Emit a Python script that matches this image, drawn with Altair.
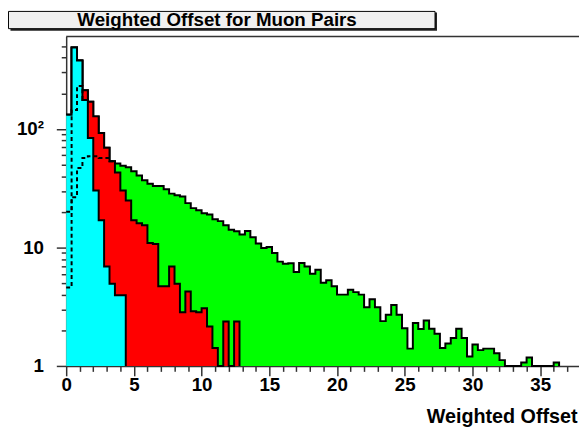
import altair as alt
import pandas as pd

TITLE = "Weighted Offset for Muon Pairs"
X_TITLE = "Weighted Offset"
BIN_WIDTH = 0.4          # 100 bins over 0..40
FLOOR = 1.0              # bottom of the log axis

# bin contents, bins of 0.4 starting at 0
TOTAL = [132, 489, 379, 213, 170, 128, 92.6, 69.5, 53.6, 51.2,
         49, 47.5, 44, 40.5, 37, 34.5, 33, 33, 31, 28.5,
         27.6, 27.0, 23.7, 21.5, 20.6, 19.5, 19.0, 17.3, 16.7, 15.4,
         14.1, 13.7, 12.9, 13.8, 12.2, 10.8, 9.9, 10.1, 9.0, 7.6,
         7.3, 7.35, 6.2, 7.4, 6.9, 6.0, 6.5, 5.05, 5.3, 4.7,
         4.0, 4.0, 4.4, 4.2, 4.0, 3.13, 3.66, 3.13, 2.39, 2.71,
         3.27, 2.7, 2.08, 1.4, 2.3, 2.05, 2.42, 2.06, 1.87, 1.42,
         1.55, 1.72, 2.06, 1.72, 1.2, 1.52, 1.36, 1.4, 1.4, 1.28,
         1.12, 0, 0, 0, 1.07, 1.18, 0, 0, 0, 0,
         1.07]
RED = [132, 489, 379, 213, 170, 128, 92.6, 69.5, 53.6, 43,
       30.3, 24.9, 17.0, 16.0, 15.4, 10.9, 10.7, 4.7, 4.7, 6.9,
       4.95, 2.84, 4.25, 2.9, 2.84, 3.07, 2.15, 1.42, 0, 2.37,
       0, 2.37]
CYAN = [132, 489, 379, 176, 84, 30.3, 17.0, 6.9, 4.95, 3.96, 3.96]
DASH_A = [4.6, 145, 231, 176]
DASH_B = [20, 26.6, 47, 57, 59, 59, 57, 57, 53.6]

X_TICKS = list(range(0, 38))
Y_TICKS = [1, 2, 3, 4, 5, 6, 7, 8, 9, 10, 20, 30, 40, 50, 60, 70, 80, 90,
           100, 200, 300, 400, 500]

W, H = 520, 334
FONT = "Liberation Sans"


def step_frame(values, close=True):
    xs = [round(BIN_WIDTH * k, 4) for k in range(len(values) + 1)]
    vs = [max(v, FLOOR) for v in values]
    vs.append(FLOOR if close else vs[-1])
    return pd.DataFrame({"x": xs, "v": vs})


x_axis = alt.Axis(
    values=X_TICKS,
    labelExpr="datum.value % 5 == 0 ? datum.label : ''",
    tickSize={"condition": {"test": "datum.value % 5 == 0", "value": 10}, "value": 5.5},
    tickColor="#333", tickWidth=1.5, domainColor="#333", domainWidth=1.5,
    labelFont=FONT, labelFontWeight="bold", labelFontSize=19, labelColor="black",
    labelPadding=0, labelFlush=False, labelOverlap=False, grid=False,
    title=X_TITLE, titleFont=FONT, titleFontWeight="bold", titleFontSize=20,
    titleColor="black", titleAnchor="end", titleAlign="right",
    titleBaseline="alphabetic", titleX=518, titleY=57,
)
y_axis = alt.Axis(
    values=Y_TICKS,
    labelExpr="datum.value == 1 ? '1' : datum.value == 10 ? '10' : datum.value == 100 ? '10²' : ''",
    tickSize={"condition": {"test": "datum.value == 1 || datum.value == 10 || datum.value == 100",
                            "value": 10}, "value": 5},
    tickColor="#333", tickWidth=1.5, domainColor="#333", domainWidth=1.5,
    labelFont=FONT, labelFontWeight="bold", labelFontSize=19, labelColor="black",
    labelPadding=13, labelFlush=False, labelOverlap=False, grid=False, title="",
)

x_enc = alt.X("x:Q", scale=alt.Scale(domain=[0, 37.87], nice=False, zero=False), axis=x_axis)
y_enc = alt.Y("v:Q", scale=alt.Scale(type="log", domain=[1, 604], nice=False), axis=y_axis)


def hist(values, color):
    df = step_frame(values)
    area = alt.Chart(df).mark_area(interpolate="step-after", color=color, opacity=1).encode(
        x=x_enc, y=y_enc, y2=alt.datum(1))
    line = alt.Chart(df).mark_line(interpolate="step-after", color="black", strokeWidth=2).encode(
        x=x_enc, y=y_enc)
    return [area, line]


def dashed(values):
    df = step_frame(values, close=False)
    return alt.Chart(df).mark_line(interpolate="step-after", color="black", strokeWidth=2,
                                   strokeDash=[4, 3]).encode(x=x_enc, y=y_enc)


box_df = pd.DataFrame({"t": [TITLE]})
shadow = alt.Chart(box_df).mark_rect(color="#222").encode(
    x=alt.value(-56.5), x2=alt.value(376), y=alt.value(-24.5), y2=alt.value(-6))
box = alt.Chart(box_df).mark_rect(fill="#f0f0f0", stroke="black", strokeWidth=1).encode(
    x=alt.value(-58.5), x2=alt.value(374), y=alt.value(-25.5), y2=alt.value(-8))
title_text = alt.Chart(box_df).mark_text(font=FONT, fontWeight="bold", fontSize=19,
                                         baseline="alphabetic", align="center",
                                         color="black").encode(
    x=alt.value(153), y=alt.value(-11), text="t:N")
top_frame = alt.Chart(box_df).mark_rule(color="#333", strokeWidth=1.5).encode(
    x=alt.value(0), x2=alt.value(W), y=alt.value(0))

layers = (hist(TOTAL, "#00ff00") + hist(RED, "#ff0000") + hist(CYAN, "#00ffff")
          + [dashed(DASH_A), dashed(DASH_B), top_frame, shadow, box, title_text])

chart = alt.layer(*layers).properties(
    width=W, height=H,
    autosize=alt.AutoSizeParams(type="none"),
    padding={"left": 59, "top": 26, "right": 0, "bottom": 62},
).configure_view(strokeWidth=0)

chart.save("out.html", embed_options={"renderer": "svg", "actions": False})
